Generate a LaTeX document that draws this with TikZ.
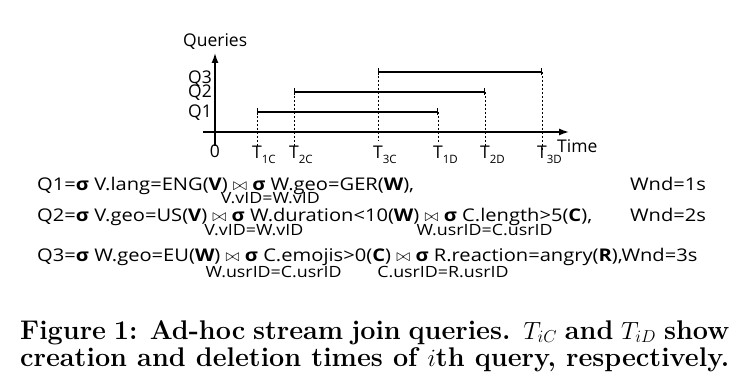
\documentclass[tikz,border=0pt]{standalone}
\usepackage{fontspec}
\newfontfamily\figfont{Open Sans}
\newfontfamily\eqfont[FakeStretch = 1.15]{Open Sans}
\usetikzlibrary{arrows.meta}

% Selection and join signs of the query formulas
\newlength\jndrop
\setlength\jndrop{13pt}
\newcommand\sel{\textbf{σ}}
\newcommand\jn[2][10pt]{\rlap{\hspace{-#1}\raisebox{-\jndrop}{\fontsize{15.5}{16}\selectfont #2}}$\bowtie$}
\newcommand\tsub[1]{\raisebox{-5pt}{\fontsize{11.5}{12}\selectfont #1}}

\begin{document}
\begin{tikzpicture}[> = {Latex[length = 10pt, width = 7pt]}, x = 1pt, y = -1pt,
	lbl/.style = {font = \figfont\fontsize{17.5}{20}\selectfont, inner sep = 0},
	eq/.style = {font = \eqfont\fontsize{17.5}{20}\selectfont, inner sep = 0},
	axis/.style = {line width = 1.4pt},
	bar/.style = {line width = 1.3pt, {Bar[width = 7pt]}-{Bar[width = 7pt]}},
	guide/.style = {line width = 0.7pt, dash pattern = on 2.5pt off 1.5pt},
	caption/.style = {font = \bfseries\fontsize{27}{27}\selectfont, inner sep = 0}]

\useasboundingbox (0, 0) rectangle (733, 374);

% Axes

\coordinate (ybottom) at (215, 146);
\coordinate (ytop) at (215, 53);
\coordinate (xleft) at (203, 132);
\coordinate (xright) at (569, 132);

\draw [->, axis] (ybottom) -- (ytop);
\draw [->, axis] (xleft) -- (xright);

\node (queries) [lbl, anchor = base west] at (183, 47) {Queries};
\node (time) [lbl, anchor = base west] at (557, 153) {Time};
\node (zero) [lbl, anchor = base] at (215, 158) {0};

% Query lifetimes

\coordinate (q1c) at (257, 112);
\coordinate (q1d) at (438, 112);
\coordinate (q2c) at (294, 92);
\coordinate (q2d) at (485, 92);
\coordinate (q3c) at (378, 72);
\coordinate (q3d) at (542, 72);

\draw [bar] (q1c) -- (q1d);
\draw [bar] (q2c) -- (q2d);
\draw [bar] (q3c) -- (q3d);

\node (l1) [lbl, anchor = base east] at (212, 118) {Q1};
\node (l2) [lbl, anchor = base east] at (212, 98) {Q2};
\node (l3) [lbl, anchor = base east] at (212, 84) {Q3};

% Creation and deletion times

\coordinate (t1c) at (257, 146);
\coordinate (t2c) at (294, 146);
\coordinate (t3c) at (378, 141);
\coordinate (t1d) at (438, 143);
\coordinate (t2d) at (485, 146);
\coordinate (t3d) at (542, 151);

\draw [guide] (q1c) -- (t1c);
\draw [guide] (q2c) -- (t2c);
\draw [guide] (q3c) -- (t3c);
\draw [guide] (q1d) -- (t1d);
\draw [guide] (q2d) -- (t2d);
\draw [guide] (q3d) -- (t3d);

\node (n1c) [lbl, anchor = base west] at (252, 159) {T\tsub{1C}};
\node (n2c) [lbl, anchor = base west] at (289, 159) {T\tsub{2C}};
\node (n3c) [lbl, anchor = base west] at (373, 159) {T\tsub{3C}};
\node (n1d) [lbl, anchor = base west] at (433, 159) {T\tsub{1D}};
\node (n2d) [lbl, anchor = base west] at (480, 159) {T\tsub{2D}};
\node (n3d) [lbl, anchor = base west] at (537, 159) {T\tsub{3D}};

% Query formulas

\node (f1) [eq, anchor = base west] at (37, 191) {Q1=\sel{} V.lang=ENG(\textbf{V}) \jn[12pt]{V.vID=W.vID} \sel{} W.geo=GER(\textbf{W}),};
\node (w1) [eq, anchor = base west] at (630, 191) {Wnd=1s};

\node (f2) [eq, anchor = base west] at (37, 221) {\setlength\jndrop{14pt}Q2=\sel{} V.geo=US(\textbf{V}) \jn[8pt]{V.vID=W.vID} \sel{} W.duration<10(\textbf{W}) \jn[8pt]{W.usrID=C.usrID} \sel{} C.length>5(\textbf{C}),};
\node (w2) [eq, anchor = base west] at (630, 221) {Wnd=2s};

\node (f3) [eq, anchor = base west] at (37, 261) {\setlength\jndrop{16pt}Q3=\sel{} W.geo=EU(\textbf{W}) \jn[20pt]{W.usrID=C.usrID} \sel{} C.emojis>0(\textbf{C}) \jn[19pt]{C.usrID=R.usrID} \sel{} R.reaction=angry(\textbf{R}),Wnd=3s};

% Caption

\node (cap1) [caption, anchor = base west] at (20, 339) {\makebox[709pt][s]{Figure 1: Ad-hoc stream join queries. $T_{iC}$ and $T_{iD}$ show}};
\node (cap2) [caption, anchor = base west] at (20, 366) {\makebox[709pt][s]{creation and deletion times of $i$th query, respectively.}};

\end{tikzpicture}
\end{document}
